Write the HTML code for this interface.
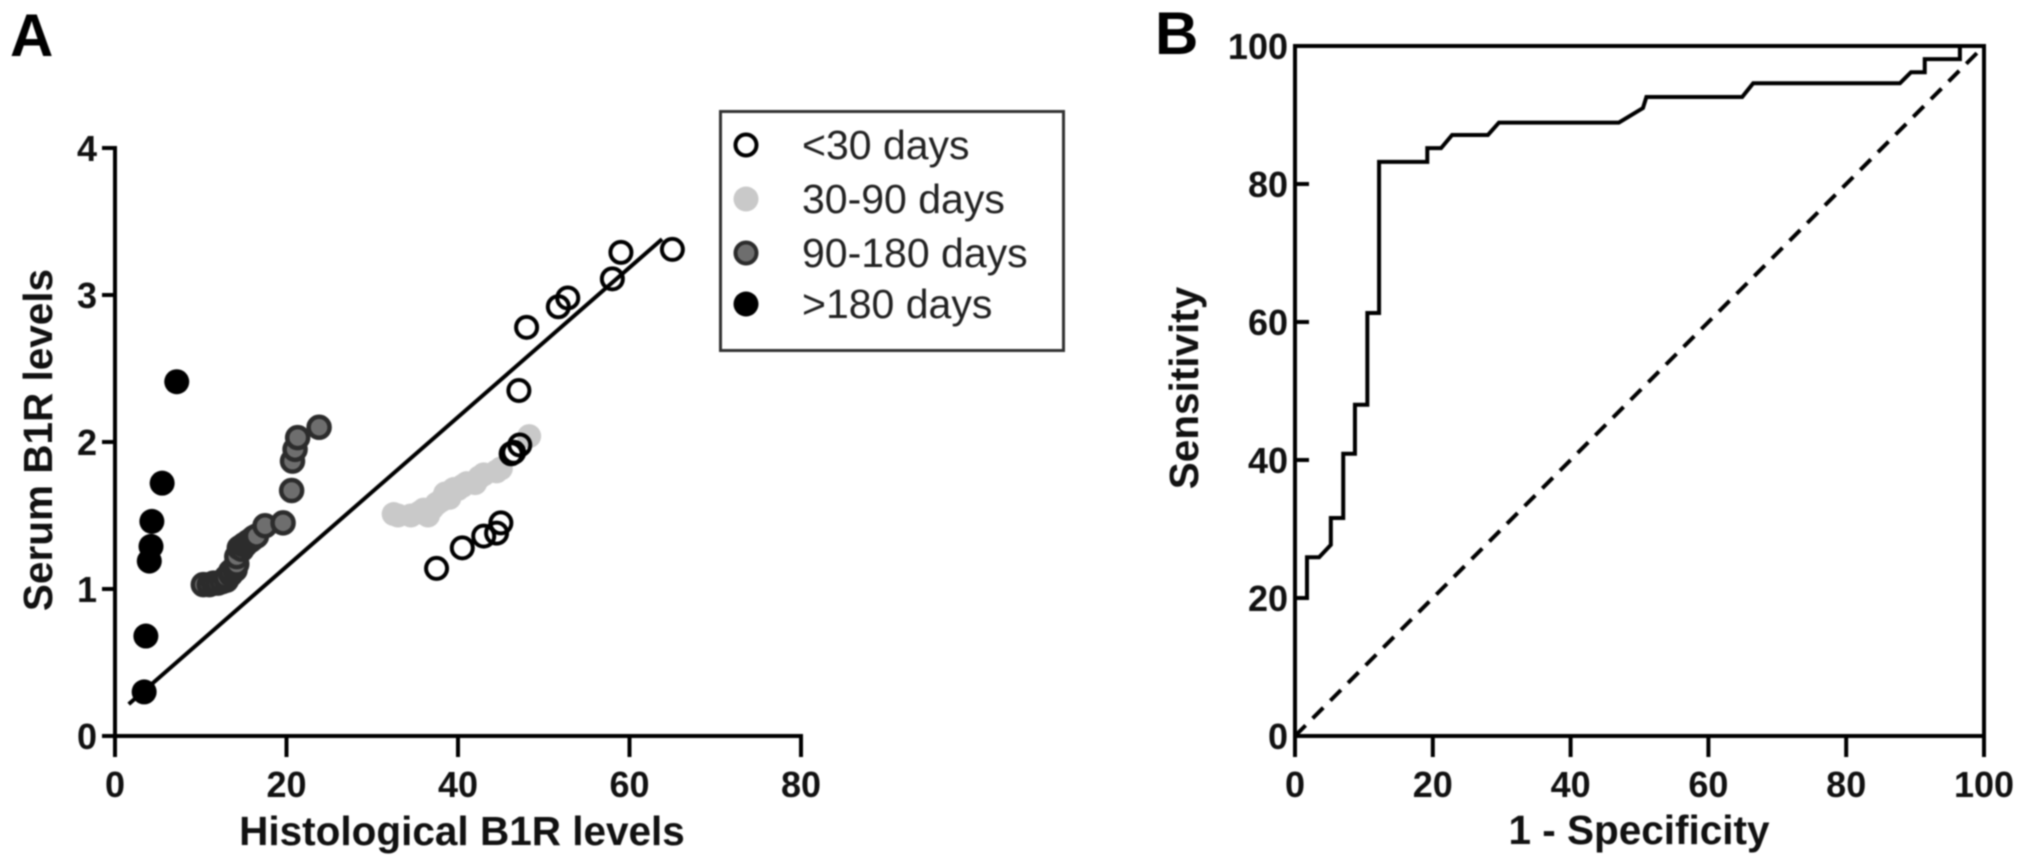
<!DOCTYPE html>
<html lang="en">
<head>
<meta charset="utf-8">
<title>Serum and histological B1R levels with ROC curve</title>
<style>
html,body{margin:0;padding:0;background:#fff;}
body{width:2031px;height:867px;overflow:hidden;}
#figure{display:block;filter:blur(0.7px);}
text{font-family:"Liberation Sans",sans-serif;fill:#111;}
.tick{font-size:36px;font-weight:700;}
.title{font-size:40.5px;font-weight:700;}
.panel{font-size:60px;font-weight:700;fill:#000;}
.legend{font-size:41px;fill:#222;}
</style>
</head>
<body>
<svg id="figure" xmlns="http://www.w3.org/2000/svg" width="2031" height="867" viewBox="0 0 2031 867"></svg>
<script>
const scatterXTicks = [0, 20, 40, 60, 80];
const scatterYTicks = [0, 1, 2, 3, 4];
const rocTicks = [0, 20, 40, 60, 80, 100];

const under30X = [65, 59, 58, 51.7, 52.8, 48, 47.1, 47.2, 46.5, 46.2, 45, 44.5, 43, 40.5, 37.5];
const under30Y = [3.31, 3.29, 3.11, 2.92, 2.98, 2.78, 2.35, 1.98, 1.93, 1.92, 1.45, 1.38, 1.36, 1.28, 1.14];
const days30to90X = [32.5, 33, 34.5, 35.5, 36, 36.5, 37, 37.5, 38, 38.5, 39, 39.5, 40, 40.5, 41, 42, 42.5, 43, 44.5, 45, 48.3];
const days30to90Y = [1.51, 1.5, 1.5, 1.52, 1.54, 1.5, 1.55, 1.58, 1.6, 1.65, 1.62, 1.68, 1.68, 1.7, 1.72, 1.72, 1.76, 1.78, 1.8, 1.82, 2.04];
const days90to180X = [10.3, 11, 11.5, 12, 12.5, 13, 13, 13.5, 13.5, 14, 14, 14.2, 14.2, 14.5, 14.8, 15, 15.2, 15.5, 15.8, 16, 16.2, 16.5, 17.5, 19.6, 20.6, 20.7, 21, 21.3, 23.8];
const days90to180Y = [1.03, 1.03, 1.04, 1.04, 1.05, 1.06, 1.08, 1.1, 1.12, 1.13, 1.15, 1.17, 1.22, 1.28, 1.27, 1.3, 1.3, 1.32, 1.33, 1.34, 1.35, 1.36, 1.43, 1.45, 1.67, 1.87, 1.95, 2.03, 2.1];
const over180X = [7.2, 5.5, 4.3, 4.2, 4.0, 3.6, 3.4];
const over180Y = [2.41, 1.72, 1.46, 1.29, 1.19, 0.68, 0.3];
const trendX = [1.6, 63.8];
const trendY = [0.217, 3.38];

const rocSpecificity = [0, 1.74, 1.74, 3.5, 5.2, 5.2, 7, 7, 8.7, 8.7, 10.5, 10.5, 12.2, 12.2, 19.2, 19.2, 21.2, 22.8, 28, 29.6, 47, 50.5, 51, 64.9, 66.5, 87.8, 89.4, 91.4, 91.4, 96.5, 96.5, 100];
const rocSensitivity = [20, 20, 25.9, 25.9, 27.7, 31.6, 31.6, 40.9, 40.9, 48, 48, 61.3, 61.3, 83.2, 83.2, 85.2, 85.2, 87.1, 87.1, 88.9, 88.9, 91, 92.6, 92.6, 94.6, 94.6, 96.2, 96.2, 98.1, 98.1, 100, 100];
const referenceLine = [0, 100];

const legendLabels = ["<30 days", "30-90 days", "90-180 days", ">180 days"];

const NS = "http://www.w3.org/2000/svg";
const svg = document.getElementById("figure");
const scatterPxX = v => 115 + (v / 80) * 686;
const scatterPxY = v => 736 - (v / 4) * 588;
const rocPxX = v => 1295 + (v / 100) * 689;
const rocPxY = v => 736 - (v / 100) * 690;

function mk(tag, attrs, text) {
  const n = document.createElementNS(NS, tag);
  for (const k in attrs) n.setAttribute(k, attrs[k]);
  if (text !== undefined) n.textContent = text;
  svg.appendChild(n);
  return n;
}
let el;

// Panel letters
el = mk("text", {x: 10, y: 56, class: "panel"}, "A");


el = mk("text", {x: 1155, y: 54, class: "panel"}, "B");



// Scatter axes
el = mk("line", {x1: scatterPxX(0), y1: scatterPxY(4) - 2, x2: scatterPxX(0), y2: scatterPxY(0) + 21, stroke: "#000", "stroke-width": 4});


el = mk("line", {x1: 102, y1: scatterPxY(0), x2: scatterPxX(80) + 2, y2: scatterPxY(0), stroke: "#000", "stroke-width": 4});


scatterXTicks.forEach(v => {
  el = mk("line", {x1: scatterPxX(v), y1: scatterPxY(0), x2: scatterPxX(v), y2: scatterPxY(0) + 21, stroke: "#000", "stroke-width": 4});
  
  
  el = mk("text", {x: scatterPxX(v), y: 797, class: "tick", "text-anchor": "middle"}, String(v));
  
  
});
scatterYTicks.forEach(v => {
  el = mk("line", {x1: 102, y1: scatterPxY(v), x2: scatterPxX(0), y2: scatterPxY(v), stroke: "#000", "stroke-width": 4});
  
  
  el = mk("text", {x: 97, y: scatterPxY(v) + 13, class: "tick", "text-anchor": "end"}, String(v));
  
  
});
el = mk("text", {x: 462, y: 845, class: "title", "text-anchor": "middle"}, "Histological B1R levels");


el = mk("text", {x: 0, y: 0, class: "title", "text-anchor": "middle", transform: "translate(52 440) rotate(-90)"}, "Serum B1R levels");



// Trend line
el = mk("line", {x1: scatterPxX(trendX[0]), y1: scatterPxY(trendY[0]), x2: scatterPxX(trendX[1]), y2: scatterPxY(trendY[1]), stroke: "#000", "stroke-width": 4});



// Points
days30to90X.forEach((x, i) => {
  el = mk("circle", {cx: scatterPxX(x), cy: scatterPxY(days30to90Y[i]), r: 12, fill: "#c9c9c9"});
  
  
});
under30X.forEach((x, i) => {
  el = mk("circle", {cx: scatterPxX(x), cy: scatterPxY(under30Y[i]), r: 10.5, fill: "none", stroke: "#000", "stroke-width": 4});
  
  
});
days90to180X.forEach((x, i) => {
  el = mk("circle", {cx: scatterPxX(x), cy: scatterPxY(days90to180Y[i]), r: 10.5, fill: "#6e6e6e", stroke: "#2c2c2c", "stroke-width": 4.5});
  
  
});
over180X.forEach((x, i) => {
  el = mk("circle", {cx: scatterPxX(x), cy: scatterPxY(over180Y[i]), r: 12.5, fill: "#000"});
  
  
});

// Legend
el = mk("rect", {x: 720.5, y: 111.5, width: 343, height: 239, fill: "none", stroke: "#333", "stroke-width": 3});


const legendRows = [145, 199, 253, 304];
legendLabels.forEach((label, i) => {
  const cy = legendRows[i];
  if (i === 0) {
    el = mk("circle", {cx: 746, cy: cy, r: 10.5, fill: "none", stroke: "#000", "stroke-width": 4});
  } else if (i === 1) {
    el = mk("circle", {cx: 746, cy: cy, r: 12.5, fill: "#c9c9c9"});
  } else if (i === 2) {
    el = mk("circle", {cx: 746, cy: cy, r: 10.5, fill: "#6e6e6e", stroke: "#2c2c2c", "stroke-width": 4});
  } else {
    el = mk("circle", {cx: 746, cy: cy, r: 12.5, fill: "#000"});
  }
  
  
  el = mk("text", {x: 802, y: cy + 14, class: "legend"}, label);
  
  
});

// ROC frame
el = mk("rect", {x: rocPxX(0), y: rocPxY(100), width: rocPxX(100) - rocPxX(0), height: rocPxY(0) - rocPxY(100), fill: "none", stroke: "#000", "stroke-width": 4});


rocTicks.forEach(v => {
  el = mk("line", {x1: rocPxX(v), y1: rocPxY(0), x2: rocPxX(v), y2: rocPxY(0) + 21, stroke: "#000", "stroke-width": 4});
  
  
  el = mk("text", {x: rocPxX(v), y: 797, class: "tick", "text-anchor": "middle"}, String(v));
  
  
  el = mk("line", {x1: rocPxX(0), y1: rocPxY(v), x2: rocPxX(0) + 14, y2: rocPxY(v), stroke: "#000", "stroke-width": 4});
  
  
  el = mk("text", {x: 1288, y: rocPxY(v) + 13, class: "tick", "text-anchor": "end"}, String(v));
  
  
});
el = mk("text", {x: 1639, y: 844, class: "title", "text-anchor": "middle"}, "1 - Specificity");


el = mk("text", {x: 0, y: 0, class: "title", "text-anchor": "middle", transform: "translate(1198 388) rotate(-90)"}, "Sensitivity");



// Reference diagonal and ROC curve
el = mk("line", {x1: rocPxX(referenceLine[0]), y1: rocPxY(referenceLine[0]), x2: rocPxX(referenceLine[1]), y2: rocPxY(referenceLine[1]), stroke: "#000", "stroke-width": 4, "stroke-dasharray": "15 10"});


el = mk("polyline", {points: rocSpecificity.map((x, i) => rocPxX(x) + "," + rocPxY(rocSensitivity[i])).join(" "), fill: "none", stroke: "#000", "stroke-width": 4, "stroke-linejoin": "miter"});


</script>
</body>
</html>
